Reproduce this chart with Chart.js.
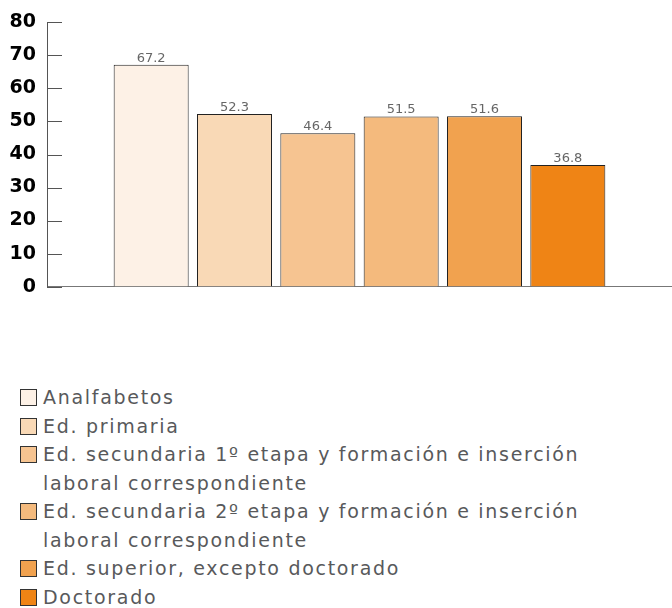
<!DOCTYPE html>
<html>
<head>
<meta charset="utf-8">
<script src="https://cdn.jsdelivr.net/npm/chart.js@4.4.0/dist/chart.umd.min.js"></script>
<style>
  body { margin: 0; background: #fff; }
  #wrap { position: relative; width: 672px; height: 608px; }
  #chartBox { position: absolute; left: 0; top: 0; width: 672px; height: 309px; }
  #legend { position: absolute; left: 20px; top: 383px; width: 640px;
            font-family: "DejaVu Sans", sans-serif; font-size: 19px; letter-spacing: 1.7px; color: #58595b; }
  .item { display: flex; align-items: flex-start; line-height: 28.5px; }
  .box { width: 15px; height: 15px; border: 1px solid #333; margin-top: 6px; flex: none; }
  .txt { margin-left: 6px; width: 570px; }
</style>
</head>
<body>
<div id="wrap">
  <div id="chartBox"><canvas id="eduChart"></canvas></div>
  <div id="legend"></div>
</div>
<script>
// Niveles de formación y valores
const niveles = [
  "Analfabetos",
  "Ed. primaria",
  "Ed. secundaria 1º etapa y formación e inserción laboral correspondiente",
  "Ed. secundaria 2º etapa y formación e inserción laboral correspondiente",
  "Ed. superior, excepto doctorado",
  "Doctorado"
];
const valores = [67.2, 52.3, 46.4, 51.5, 51.6, 36.8];
const colores = ["#fdf1e6", "#f9d9b6", "#f6c491", "#f4ba7d", "#f1a24f", "#ef8415"];
const ticksY = [0, 10, 20, 30, 40, 50, 60, 70, 80];

const datasets = niveles.map((n, i) => ({
  label: n,
  data: [valores[i]],
  backgroundColor: colores[i],
  borderColor: "#222",
  borderWidth: 1
}));

// Etiquetas de valor sobre cada barra
const valueLabels = {
  id: "valueLabels",
  afterDatasetsDraw(chart) {
    const c = chart.ctx;
    c.save();
    c.font = "13px 'DejaVu Sans', sans-serif";
    c.fillStyle = "#666";
    c.textAlign = "center";
    c.textBaseline = "bottom";
    chart.data.datasets.forEach((ds, i) => {
      const bar = chart.getDatasetMeta(i).data[0];
      c.fillText(ds.data[0].toFixed(1), bar.x, bar.y);
    });
    c.restore();
  }
};

// Marcas del eje Y hacia dentro
const innerTicks = {
  id: "innerTicks",
  afterDraw(chart) {
    const y = chart.scales.y;
    const c = chart.ctx;
    c.save();
    c.strokeStyle = "#555";
    c.lineWidth = 1;
    y.ticks.forEach((t, i) => {
      const py = Math.round(y.getPixelForTick(i)) + 0.5;
      c.beginPath();
      c.moveTo(y.right, py);
      c.lineTo(y.right + 15, py);
      c.stroke();
    });
    c.restore();
  }
};

const chart = new Chart(document.getElementById("eduChart"), {
  type: "bar",
  data: { labels: [""], datasets: datasets },
  options: {
    responsive: true,
    maintainAspectRatio: false,
    animation: false,
    layout: { padding: { top: 21, bottom: 4, left: 0, right: 0 } },
    plugins: { legend: { display: false }, tooltip: { enabled: false } },
    scales: {
      x: {
        grid: { display: false },
        ticks: { display: false },
        border: { color: "#777", width: 1 },
        afterFit(s) { s.height = 0; }
      },
      y: {
        min: 0, max: 80,
        afterBuildTicks(s) { s.ticks = ticksY.map(v => ({ value: v })); },
        grid: { display: false, drawTicks: false },
        border: { color: "#555", width: 1 },
        ticks: {
          padding: 11,
          color: "#000",
          font: { family: "'DejaVu Sans', sans-serif", size: 19, weight: "bold" }
        },
        afterFit(s) { s.width = 47; }
      }
    }
  },
  plugins: [valueLabels, innerTicks]
});

// Leyenda en HTML a partir de los datasets
const legend = document.getElementById("legend");
chart.data.datasets.forEach(ds => {
  const item = document.createElement("div");
  item.className = "item";
  item.innerHTML = `<span class="box" style="background:${ds.backgroundColor}"></span><span class="txt">${ds.label}</span>`;
  legend.appendChild(item);
});
</script>
</body>
</html>
